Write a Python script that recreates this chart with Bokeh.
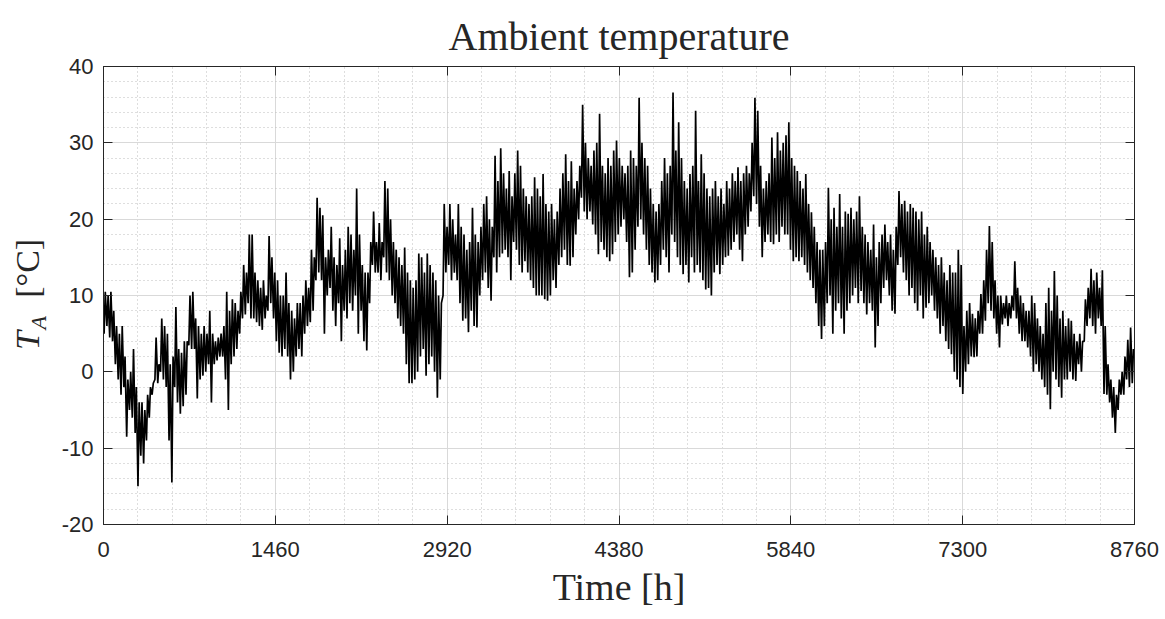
import math
from bokeh.plotting import figure
from bokeh.layouts import row
from bokeh.models import Range1d, FixedTicker, LinearAxis, Label
from bokeh.embed import file_html
from bokeh.resources import INLINE

# ---- data: daily maximum / minimum ambient temperature [°C] ----
daily_max = [
    10.5, 10, 10.5, 8, 6, 5, 6, 2, -1, 0,
    3, -2, -4, -4, -5, -3, -2, -1.5, 4.5, 1,
    7, 6, 5, 1, 2, 8.5, 3, 2.5, 4, 4,
    10, 10.5, 7, 6, 5, 6, 5, 8, 5, 4,
    4.5, 5, 6, 10.5, 8, 9.5, 9, 8, 10.5, 14,
    13, 18, 18, 13, 12, 11, 12, 10, 17.8, 15,
    13, 12, 10, 10, 13, 9, 8, 7, 9, 9,
    10, 12, 11, 16, 15, 22.8, 21.5, 20.5, 15, 16,
    19, 15, 14, 17.5, 14, 16, 19, 18, 16, 24,
    18, 14, 13, 13, 17, 21, 17, 19.5, 17, 25,
    24, 20, 17, 16, 15, 14, 16.3, 13, 12, 11,
    12, 15.5, 15, 13, 15.5, 14, 13, 12, 10, 9,
    22, 19, 22, 20, 18, 22, 19, 18, 16, 17,
    21.5, 18, 17, 19, 22, 23, 20, 19, 28.3, 25,
    29.3, 26, 24, 26.3, 23, 26, 29, 27, 24, 23,
    22, 23, 25.5, 24, 23, 25.9, 22, 21, 22, 20,
    21, 24, 26, 28.5, 25, 27.6, 24, 25, 27, 35,
    30, 28, 27, 29, 30, 33.8, 27, 26, 28, 27,
    29, 30.3, 28, 27, 26, 27, 29, 28, 27, 35.9,
    30, 28, 27, 24, 22, 21, 22, 25, 28, 26,
    27, 36.6, 29, 32.7, 28, 25, 24, 25.9, 27, 34.2,
    25, 28.5, 26, 24, 23, 24, 25, 23, 24, 22,
    25, 24, 26, 25, 26.8, 25, 26, 27, 26, 30,
    35.9, 34.2, 27, 24, 25, 26, 30.7, 28, 31.4, 29,
    30, 31, 32.7, 28, 27, 26.3, 25, 24, 25.9, 22,
    20.9, 19, 17, 16, 16, 17, 24.1, 20, 21.5, 19,
    23.3, 19, 21, 20.7, 21.5, 20, 21, 23, 19, 18,
    17, 16, 19.3, 15, 17, 18, 19.3, 17, 18, 16,
    19, 23.7, 22, 22.4, 21, 22, 21.5, 21, 20, 21,
    18, 19, 17, 16, 15, 14, 15, 13, 12, 14,
    13, 13, 16, 14, 6, 8, 9, 7.6, 7, 8,
    10.2, 12, 16, 19.1, 17, 12, 10, 10, 9, 10,
    9, 10, 14.5, 11, 10, 9, 8, 8, 10, 9,
    7, 6, 5, 9, 11, 8, 13.2, 10, 7, 8,
    6, 7, 6.7, 5, 4, 5, 4, 9.5, 11, 13.5,
    12, 13, 11, 13.3, 6, 1, -1, -2, -3, -1,
    0, 2, 4.2, 5.8, 3,
]

daily_min = [
    5, 6, 4.5, 4, 1, -1, -3, -2, -8.5, -5,
    -6, -8, -15, -11, -12, -9, -6, -3, -1, -1.5,
    0, -1, -2, -9, -14.5, -2, -4, -5.5, -4.5, -3,
    3.5, 3, 3, -3.5, -1, -0.5, 0, 1, -4, 1,
    1.5, 2, 2, -1, -5, 1, 2, 3, 5, 7,
    7.5, 9, 7, 7, 6.5, 6, 5.5, 7, 8, 9,
    7, 4, 2.5, 2, 3, 2, -1, 0, 2, 3,
    2, 5, 6, 6.5, 8, 12, 13, 12, 5, 10,
    11, 8, 6, 9, 4, 8, 7, 9, 8, 10,
    5, 8, 4, 2.8, 9, 14, 13, 13, 12, 15,
    13, 12, 10, 9, 7, 6, 5, 1, -1.5, -1.5,
    -1, 0, 2, 3, -0.5, 1, 2, 0, -3.4, -1,
    10, 13, 14, 12, 13, 12, 9, 6.7, 7, 5.2,
    8, 6, 5.8, 10, 12, 13, 11, 9.3, 15, 13,
    15, 15.5, 16, 15, 12, 17, 16, 14, 13, 14.5,
    13, 12, 11, 10, 10, 10, 9.5, 9.3, 10, 12,
    11, 14, 15, 16, 14, 13.9, 15, 18, 20, 22.8,
    21, 20, 21, 19.3, 18, 15.4, 17, 16, 15, 14.5,
    15.4, 17, 18, 19, 20, 17, 12.4, 13, 16, 19,
    20, 18, 16, 14, 13, 11.7, 12, 14, 16, 15,
    13, 18, 17, 15, 14, 12.8, 14, 11.7, 15, 13,
    14, 13, 12, 10.8, 11, 10, 13, 14, 12.8, 14,
    15, 15.2, 16, 17, 18, 16, 14.5, 18, 19, 21,
    23, 22, 19, 15, 17, 18, 17, 16.7, 18, 17,
    19, 18, 18, 16, 14.5, 15, 14.5, 15, 14, 13,
    12, 11, 9, 6, 4.3, 6, 9, 10, 5, 8,
    9, 7, 5, 8, 9, 10, 11, 9, 10.6, 9,
    7.5, 9, 8, 3.2, 6, 9, 11, 12, 10, 8,
    7.6, 14, 15, 13, 12, 10, 11, 9, 8, 10,
    7, 8.4, 9, 10, 8, 7, 5, 6, 4, 3,
    2.3, 0, -1, -2, -2.9, 0, 1, 2, 1.9, 2,
    5, 5, 6.7, 9, 8, 7, 5, 3.2, 6.2, 7,
    6, 7, 8, 7, 5, 4, 4, 3.2, 2, 0,
    1, 0, -1, -2, -3, -4.9, 0, -1, -2, -3.4,
    -1, -1, 0, -1, -1.2, 1, 0, 4, 6, 7,
    6, 5, 7, 6, -2.9, -3, -4, -6, -8, -5,
    -3, -3, -1, -2, -1.5,
]

hour_of_min = 5      # typical hour of the daily minimum
hour_of_max = 15     # typical hour of the daily maximum

x_ticks = [0, 1460, 2920, 4380, 5840, 7300, 8760]
y_ticks = [-20, -10, 0, 10, 20, 30, 40]
y_tick_labels = ["-20", "-10", "0", "10", "20", "30", "40"]
x_minor_step = 292
y_minor_step = 2

# ---- build time series (alternating daily min / max) ----
t_vals, temp_vals = [], []
for d, (lo, hi) in enumerate(zip(daily_min, daily_max)):
    t_vals += [d * 24 + hour_of_min, d * 24 + hour_of_max]
    temp_vals += [lo, hi]

x_minor = list(range(0, 8760 + 1, x_minor_step))
y_minor = list(range(-20, 40 + 1, y_minor_step))

AX = "#262626"
TOTAL_H = 615
LAB_W = 56

p = figure(width=1160 - LAB_W, height=TOTAL_H,
           x_range=Range1d(0, 8760), y_range=Range1d(-20, 40),
           output_backend="svg", toolbar_location=None,
           min_border_left=103 - LAB_W, min_border_right=26,
           min_border_top=66, min_border_bottom=TOTAL_H - 524)

p.line(t_vals, temp_vals, line_color="black", line_width=1.7)

# title
p.title.text = "Ambient temperature"
p.title.align = "center"
p.title.text_font = "Liberation Serif"
p.title.text_font_size = "40px"
p.title.text_font_style = "normal"
p.title.text_color = AX
p.title.standoff = 15

p.background_fill_color = "white"
p.border_fill_color = "white"
p.outline_line_color = AX
p.outline_line_width = 1

# axes
p.xaxis.ticker = FixedTicker(ticks=x_ticks, minor_ticks=x_minor)
p.yaxis.ticker = FixedTicker(ticks=y_ticks, minor_ticks=y_minor)
p.yaxis.major_label_overrides = dict(zip(y_ticks, y_tick_labels))
for ax in list(p.xaxis) + list(p.yaxis):
    ax.major_tick_in = 9
    ax.major_tick_out = 0
    ax.minor_tick_in = 0
    ax.minor_tick_out = 0
    ax.axis_line_color = AX
    ax.major_tick_line_color = AX
    ax.major_label_text_font = "Liberation Sans"
    ax.major_label_text_font_size = "22px"
    ax.major_label_text_color = AX
p.xaxis.major_label_standoff = 17
p.yaxis.major_label_standoff = 10

p.xaxis.axis_label = "Time [h]"
p.xaxis.axis_label_text_font = "Liberation Serif"
p.xaxis.axis_label_text_font_size = "38px"
p.xaxis.axis_label_text_font_style = "normal"
p.xaxis.axis_label_text_color = AX
p.xaxis.axis_label_standoff = 6

# top / right tick marks (box style)
top_ax = LinearAxis(ticker=FixedTicker(ticks=x_ticks),
                    major_label_overrides={t: "" for t in x_ticks},
                    major_label_text_font_size="0px", major_label_standoff=0,
                    major_tick_in=9, major_tick_out=0, minor_tick_in=0, minor_tick_out=0,
                    axis_line_color=AX, major_tick_line_color=AX)
right_ax = LinearAxis(ticker=FixedTicker(ticks=y_ticks),
                      major_label_overrides={t: "" for t in y_ticks},
                      major_label_text_font_size="0px", major_label_standoff=0,
                      major_tick_in=9, major_tick_out=0, minor_tick_in=0, minor_tick_out=0,
                      axis_line_color=AX, major_tick_line_color=AX)
p.add_layout(top_ax, "above")
p.add_layout(right_ax, "right")

# grids
for g in (p.xgrid, p.ygrid):
    g.grid_line_color = "#d9d9d9"
    g.grid_line_width = 1
    g.minor_grid_line_color = "#bdbdbd"
    g.minor_grid_line_dash = "1 3"
    g.minor_grid_line_width = 1

# ---- y-axis label "T_A [°C]" in a narrow side panel (pixel coordinates) ----
lf = figure(width=LAB_W, height=TOTAL_H, x_range=Range1d(0, LAB_W), y_range=Range1d(0, TOTAL_H),
            x_axis_type=None, y_axis_type=None, output_backend="svg", toolbar_location=None,
            min_border=0, outline_line_color=None)
lf.grid.visible = False
lab_common = dict(angle=math.pi / 2, text_font="Liberation Serif", text_color=AX,
                  text_align="center", text_baseline="middle")
lf.add_layout(Label(x=27, y=TOTAL_H - 368, text="T", text_font_style="italic",
                    text_font_size="34px", **lab_common))
lf.add_layout(Label(x=38, y=TOTAL_H - 344, text="A", text_font_style="italic",
                    text_font_size="22px", **lab_common))
lf.add_layout(Label(x=27, y=TOTAL_H - 271, text="[°C]", text_font_style="normal",
                    text_font_size="34px", **lab_common))

layout = row(lf, p, spacing=0)
open("out.html", "w").write(file_html(layout, INLINE))
